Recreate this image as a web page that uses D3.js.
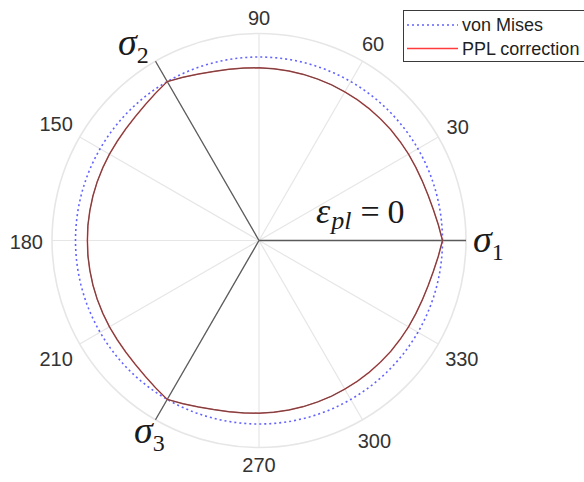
<!DOCTYPE html>
<html>
<head>
<meta charset="utf-8">
<script src="https://cdn.jsdelivr.net/npm/d3@7"></script>
<style>
  html, body { margin: 0; padding: 0; background: #ffffff; }
  svg { display: block; }
</style>
</head>
<body>
<script>
// Angular grid: spokes every 30 degrees, labels where no stress axis sits
const spokeAngles = [0, 30, 60, 90, 120, 150, 180, 210, 240, 270, 300, 330];
const angleTickLabels = [30, 60, 90, 150, 180, 210, 270, 300, 330];

// Principal stress axes in the deviatoric plane
const stressAxisAngles = [0, 120, 240];
const stressAxisNames = ["1", "2", "3"];

// Yield surfaces (normalised radius vs. polar angle in degrees)
const vonMisesRadius = 1.0;
const pplAngles = [
  0, 5, 10, 15, 20, 25, 30, 35, 40, 45, 50, 55,
  60, 65, 70, 75, 80, 85, 90, 95, 100, 105, 110, 115,
  120, 125, 130, 135, 140, 145, 150, 155, 160, 165, 170, 175,
  180, 185, 190, 195, 200, 205, 210, 215, 220, 225, 230, 235,
  240, 245, 250, 255, 260, 265, 270, 275, 280, 285, 290, 295,
  300, 305, 310, 315, 320, 325, 330, 335, 340, 345, 350, 355
];
const pplRadius = [
  1.000, 0.981, 0.965, 0.954, 0.947, 0.943, 0.941, 0.939, 0.938, 0.937, 0.936, 0.936,
  0.935, 0.936, 0.936, 0.937, 0.938, 0.939, 0.941, 0.943, 0.947, 0.954, 0.965, 0.981,
  1.000, 0.981, 0.965, 0.954, 0.947, 0.943, 0.941, 0.939, 0.938, 0.937, 0.936, 0.936,
  0.935, 0.936, 0.936, 0.937, 0.938, 0.939, 0.941, 0.943, 0.947, 0.954, 0.965, 0.981,
  1.000, 0.981, 0.965, 0.954, 0.947, 0.943, 0.941, 0.939, 0.938, 0.937, 0.936, 0.936,
  0.935, 0.936, 0.936, 0.937, 0.938, 0.939, 0.941, 0.943, 0.947, 0.954, 0.965, 0.981
];
const radialLimit = 1.128;

const legendNames = ["von Mises", "PPL correction"];

const width = 584, height = 482;
const cx = 259, cy = 240.5, outerR = 207;

const svg = d3.select("body").append("svg")
  .attr("width", width).attr("height", height)
  .attr("viewBox", `0 0 ${width} ${height}`);

svg.append("rect").attr("width", width).attr("height", height).attr("fill", "#ffffff");

const r = d3.scaleLinear().domain([0, radialLimit]).range([0, outerR]);
const toRad = d => d * Math.PI / 180;
// polar angle measured counter-clockwise from the +x axis; d3.lineRadial uses clockwise-from-top
const radialAngle = d => Math.PI / 2 - toRad(d);

const g = svg.append("g").attr("transform", `translate(${cx},${cy})`);

// grid
g.selectAll("line.spoke").data(spokeAngles).join("line")
  .attr("class", "spoke")
  .attr("x1", 0).attr("y1", 0)
  .attr("x2", d => r(radialLimit) * Math.cos(toRad(d)))
  .attr("y2", d => -r(radialLimit) * Math.sin(toRad(d)))
  .attr("stroke", "#e6e6e6").attr("stroke-width", 1.2);

g.append("circle").attr("r", r(radialLimit))
  .attr("fill", "none").attr("stroke", "#e6e6e6").attr("stroke-width", 1.6);

// angular tick labels
const labelR = 216;
g.selectAll("text.atick").data(angleTickLabels).join("text")
  .attr("class", "atick")
  .attr("text-anchor", "middle")
  .attr("dominant-baseline", "central")
  .attr("font-family", "Liberation Sans, Arial, sans-serif")
  .attr("font-size", 20)
  .attr("fill", "#333333")
  .text(d => d)
  .each(function (d) {
    const w = this.getComputedTextLength();
    const a = toRad(d);
    const rr = labelR + w / 2 * Math.abs(Math.cos(a)) + 7.5 * Math.abs(Math.sin(a));
    d3.select(this).attr("x", rr * Math.cos(a)).attr("y", -rr * Math.sin(a) + 1);
  });

// principal stress axes
g.selectAll("line.saxis").data(stressAxisAngles).join("line")
  .attr("class", "saxis")
  .attr("x1", 0).attr("y1", 0)
  .attr("x2", d => r(radialLimit) * Math.cos(toRad(d)))
  .attr("y2", d => -r(radialLimit) * Math.sin(toRad(d)))
  .attr("stroke", "#5a5a5a").attr("stroke-width", 1.3);

// von Mises circle
const vmAngles = d3.range(0, 360, 2);
const radial = d3.lineRadial().curve(d3.curveLinearClosed);

g.append("path")
  .datum(vmAngles.map(a => [radialAngle(a), r(vonMisesRadius)]))
  .attr("d", radial)
  .attr("fill", "none")
  .attr("stroke", "#6262ff")
  .attr("stroke-width", 1.6)
  .attr("stroke-dasharray", "2,3");

// PPL corrected surface
const pplPts = pplAngles.map((a, i) => [radialAngle(a), r(pplRadius[i])]);
g.append("path").datum(pplPts).attr("d", radial)
  .attr("fill", "none").attr("stroke", "#d05050").attr("stroke-width", 1.5);
g.append("path").datum(pplPts).attr("d", radial)
  .attr("fill", "none").attr("stroke", "#5e4040").attr("stroke-width", 1.0).attr("opacity", 0.85);

// stress axis labels
const sigmaPos = [[473, 252], [118, 55], [134, 443]];
stressAxisNames.forEach((name, i) => {
  const t = svg.append("text")
    .attr("x", sigmaPos[i][0]).attr("y", sigmaPos[i][1])
    .attr("font-family", "Liberation Serif, Times New Roman, serif")
    .attr("fill", "#1a1a1a");
  t.append("tspan").attr("font-size", 38).attr("font-style", "italic").text("σ");
  t.append("tspan").attr("font-size", 24).attr("dy", 8).attr("dx", 0).text(name);
});

// plastic strain annotation
const eps = svg.append("text")
  .attr("x", 316).attr("y", 223)
  .attr("font-family", "Liberation Serif, Times New Roman, serif")
  .attr("fill", "#1a1a1a");
eps.append("tspan").attr("font-size", 36).attr("font-style", "italic").text("ε");
eps.append("tspan").attr("font-size", 26).attr("font-style", "italic").attr("dy", 6).attr("dx", 1).text("pl");
eps.append("tspan").attr("font-size", 34).attr("dy", -6).attr("dx", 9).text("=");
eps.append("tspan").attr("font-size", 34).attr("dx", 8).text("0");

// legend
const lg = svg.append("g");
lg.append("rect").attr("x", 403.5).attr("y", 10.5).attr("width", 200).attr("height", 51)
  .attr("fill", "#ffffff").attr("stroke", "#3a3a3a").attr("stroke-width", 1);
const legendY = [25, 48.5];
lg.append("line").attr("x1", 407).attr("x2", 458).attr("y1", legendY[0]).attr("y2", legendY[0])
  .attr("stroke", "#6262ff").attr("stroke-width", 1.6).attr("stroke-dasharray", "2,3");
lg.append("line").attr("x1", 407).attr("x2", 458).attr("y1", legendY[1]).attr("y2", legendY[1])
  .attr("stroke", "#ff3b3b").attr("stroke-width", 1.4);
lg.selectAll("text").data(legendNames).join("text")
  .attr("x", 462).attr("y", (d, i) => legendY[i])
  .attr("dominant-baseline", "central")
  .attr("font-family", "Liberation Sans, Arial, sans-serif")
  .attr("font-size", 18)
  .attr("fill", "#1f1f1f")
  .text(d => d);
</script>
</body>
</html>
